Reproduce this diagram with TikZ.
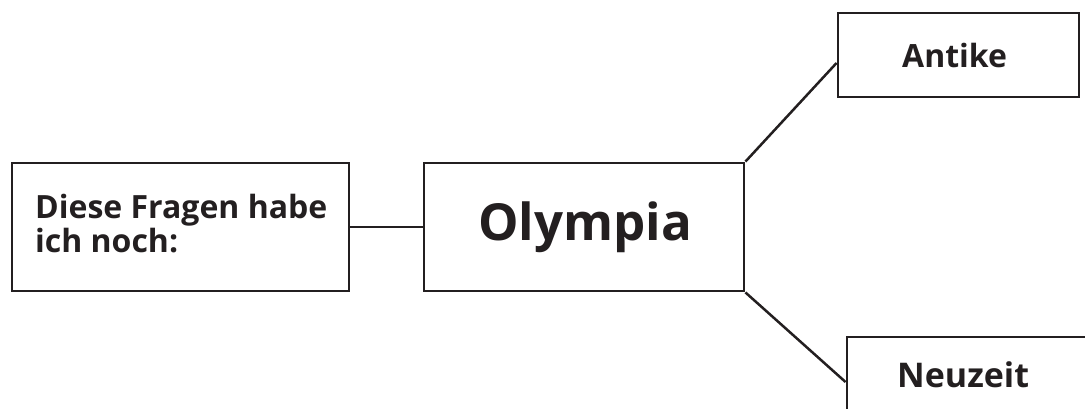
\documentclass[tikz,border=0pt]{standalone}
\usepackage{fontspec}
\setmainfont{Open Sans}
\definecolor{ink}{HTML}{231F20}
\tikzset{
  box/.style={draw=ink, line width=2.9pt, fill=white, inner sep=0pt, rectangle},
  link/.style={draw=ink, line width=2.5pt},
  label/.style={text=ink, inner sep=0pt, font=\bfseries},
}
\begin{document}
\begin{tikzpicture}[x=1pt, y=1pt]
\useasboundingbox (0,0) rectangle (1085,-408);
\clip (0,0) rectangle (1085,-408);
% boxes
\node[box, minimum width=337pt, minimum height=128pt] (fragen) at (180.5,-227) {};
\node[box, minimum width=320pt, minimum height=128pt] (olympia) at (584,-227) {};
\node[box, minimum width=241pt, minimum height=84pt] (antike) at (958.5,-55) {};
\node[box, minimum width=263pt, minimum height=93pt] (neuzeit) at (978.5,-383.5) {};
% connectors
\draw[link] (fragen.east) -- (olympia.west);
\draw[link] (olympia.north east) -- ([yshift=-8pt]antike.west);
\draw[link] (olympia.south east) -- ([yshift=1.5pt]neuzeit.west);
% texts (base of a two-line node is its last line)
\node[label, anchor=base west, align=left, font=\bfseries\fontsize{32}{34}\selectfont] (fragentext) at (35,-252) {Diese Fragen habe\\ich noch:};
\node[label, anchor=base, font=\bfseries\fontsize{51}{56}\selectfont] (olympiatext) at (585,-240) {Olympia};
\node[label, anchor=base west, font=\bfseries\fontsize{32}{40}\selectfont] (antiketext) at (902,-67) {Antike};
\node[label, anchor=base west, font=\bfseries\fontsize{34}{40}\selectfont] (neuzeittext) at (897,-387) {Neuzeit};
\end{tikzpicture}
\end{document}
